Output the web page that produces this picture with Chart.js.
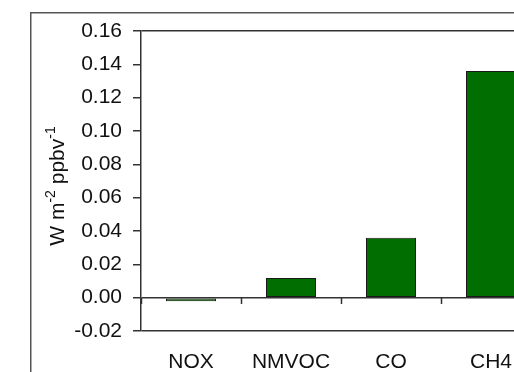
<!DOCTYPE html>
<html>
<head>
<meta charset="utf-8">
<script src="https://cdn.jsdelivr.net/npm/chart.js@4/dist/chart.umd.min.js"></script>
<style>
  html, body { margin: 0; padding: 0; background: #fff; }
  #wrap { width: 514px; height: 372px; overflow: hidden; position: relative; }
</style>
</head>
<body>
<div id="wrap"><canvas id="chart" width="600" height="372"></canvas></div>
<script>
// species and their forcing per ppbv
const categories = ['NOX', 'NMVOC', 'CO', 'CH4'];
const forcing = [-0.0022, 0.0118, 0.036, 0.136];
const yTicks = [-0.02, 0.00, 0.02, 0.04, 0.06, 0.08, 0.10, 0.12, 0.14, 0.16];
const framedLines = [0.16, 0.00, -0.02]; // horizontal rules drawn across the plot

const FONT = '"Liberation Sans", Arial, sans-serif';
const AXIS = '#333';

const near = (a, b) => Math.abs(a - b) < 1e-9;

// outer box + y axis title with superscripts
const decor = {
    id: 'decor',
    afterDraw(chart) {
        const ctx = chart.ctx;
        ctx.save();
        ctx.strokeStyle = '#555';
        ctx.lineWidth = 1.5;
        ctx.strokeRect(30.75, 12.75, 1000, 1000);

        const parts = [
            { t: 'W m', sup: false },
            { t: '-2', sup: true },
            { t: ' ppbv', sup: false },
            { t: '-1', sup: true }
        ];
        const big = '21px ' + FONT, small = '14px ' + FONT;
        let total = 0;
        parts.forEach(p => {
            ctx.font = p.sup ? small : big;
            p.w = ctx.measureText(p.t).width;
            total += p.w;
        });
        ctx.translate(64, 186);
        ctx.rotate(-Math.PI / 2);
        ctx.fillStyle = '#111';
        ctx.textBaseline = 'alphabetic';
        ctx.textAlign = 'left';
        let x = -total / 2;
        parts.forEach(p => {
            ctx.font = p.sup ? small : big;
            ctx.fillText(p.t, x, p.sup ? -9 : 0);
            x += p.w;
        });
        ctx.restore();
    }
};

new Chart(document.getElementById('chart'), {
    type: 'bar',
    data: {
        labels: categories,
        datasets: [{
            data: forcing,
            backgroundColor: '#006e00',
            borderColor: '#1a1a1a',
            borderWidth: 1,
            borderSkipped: false,
            barPercentage: 0.5,
            categoryPercentage: 1.0
        }]
    },
    options: {
        responsive: false,
        animation: false,
        layout: { padding: { left: 0, top: 31, right: 59, bottom: 0 } },
        plugins: { legend: { display: false }, tooltip: { enabled: false } },
        scales: {
            x: {
                position: 'bottom',
                grid: { display: false },
                border: { display: false },
                ticks: {
                    color: '#111',
                    font: { family: FONT, size: 21 },
                    padding: 11,
                    maxRotation: 0
                },
                afterFit(scale) { scale.height = 41; }
            },
            x2: {
                type: 'category',
                labels: categories,
                position: { y: 0 },
                grid: {
                    offset: true,
                    drawOnChartArea: false,
                    tickLength: 6,
                    tickColor: AXIS,
                    tickWidth: 1.5
                },
                border: { display: false },
                ticks: { display: false }
            },
            y: {
                min: -0.02,
                max: 0.16,
                afterBuildTicks(scale) { scale.ticks = yTicks.map(v => ({ value: v })); },
                grid: {
                    color: c => framedLines.some(v => near(v, c.tick.value)) ? AXIS : 'rgba(0,0,0,0)',
                    lineWidth: 1.5,
                    tickLength: 8,
                    tickColor: AXIS,
                    tickWidth: 1.5
                },
                border: { display: true, color: AXIS, width: 1.5 },
                ticks: {
                    color: '#111',
                    font: { family: FONT, size: 21 },
                    padding: 11,
                    callback: v => v.toFixed(2)
                },
                afterFit(scale) { scale.width = 141; }
            }
        }
    },
    plugins: [decor]
});
</script>
</body>
</html>
